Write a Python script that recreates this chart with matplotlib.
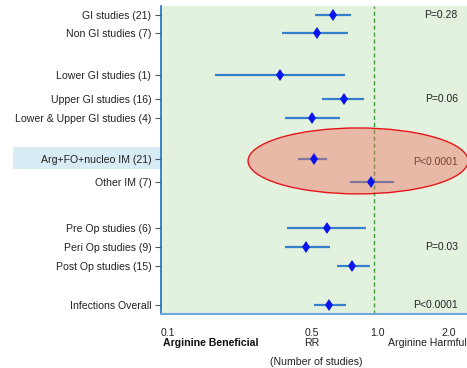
import numpy as np
import matplotlib
matplotlib.use("Agg")
from matplotlib import pyplot as plt
from matplotlib.patches import Ellipse, Rectangle
from matplotlib.transforms import ScaledTranslation

plt.rcParams['font.family'] = ['Liberation Sans', 'DejaVu Sans']

labels = ['GI studies (21)', 'Non GI studies (7)', 'Lower GI studies (1)',
          'Upper GI studies (16)', 'Lower & Upper GI studies (4)',
          'Arg+FO+nucleo IM (21)', 'Other IM (7)', 'Pre Op studies (6)',
          'Peri Op studies (9)', 'Post Op studies (15)', 'Infections Overall']
rr = [0.64, 0.54, 0.36, 0.72, 0.51, 0.52, 0.97, 0.60, 0.48, 0.79, 0.61]
ci_low = [0.53, 0.37, 0.18, 0.57, 0.38, 0.44, 0.77, 0.39, 0.38, 0.67, 0.52]
ci_high = [0.78, 0.75, 0.73, 0.89, 0.69, 0.60, 1.24, 0.91, 0.62, 0.95, 0.74]
p_text = ['P=0.28', 'P=0.06', 'P<0.0001', 'P=0.03', 'P<0.0001']
x_ticks = [0.1, 0.5, 1.0, 2.0]
x_ticklabels = ['0.1', '0.5', '1.0', '2.0']

# layout: row positions (top down), p-value rows
row_y = [15, 33, 75, 99, 118, 159, 182, 228, 247, 266, 305]
p_y = [15, 99, 162, 247, 305]

fig = plt.figure(figsize=(4.67, 3.68), dpi=100)
W, H = 467, 368

# highlight band behind Arg+FO label
band = Rectangle((13 / W, 1 - 169 / H), (161 - 13) / W, 22 / H,
                 transform=fig.transFigure, facecolor='#D8ECF5',
                 edgecolor='none', zorder=-1)
fig.patches.append(band)

ax = fig.add_axes([161 / W, 1 - 314 / H, 306 / W, 308 / H])
ax.set_facecolor('#E3F2DF')
ax.set_xscale('log')
ax.set_xlim(0.1, 2.72)
ax.set_ylim(314, 6)

ax.hlines(row_y, ci_low, ci_high, color='#3580CC', lw=1.6, zorder=2)
ax.plot(rr, row_y, 'd', color='#0A14EE', ms=6, mew=0, zorder=5)
ax.axvline(1.0, color='#3CA03C', lw=1, ls=(0, (3, 2)), zorder=1)

for t, y in zip(p_text, p_y):
    ax.text(0.97, y, t, transform=ax.get_yaxis_transform(), ha='right',
            va='center', fontsize=7.5, color='#222222', zorder=3)

ax.add_patch(Ellipse((0.644, 0.497), 0.719, 0.214, transform=ax.transAxes,
                     facecolor='#F06A58', alpha=0.42, edgecolor='none', zorder=4))
ax.add_patch(Ellipse((0.644, 0.497), 0.719, 0.214, transform=ax.transAxes,
                     facecolor='none', edgecolor='#E8141C', lw=1, zorder=4))

ax.set_yticks(row_y)
ax.set_yticklabels(labels, fontsize=7.6, color='#222222')
ax.tick_params(axis='y', length=4, width=0.8, color='#555555', pad=3)
ax.set_xticks(x_ticks)
ax.set_xticklabels(x_ticklabels, fontsize=7.6, color='#222222')
ax.minorticks_off()
ax.tick_params(axis='x', which='both', length=0, pad=10)

# nudge x tick labels like the original
shifts = [0, 2, 3, 10]
for lab, dx in zip(ax.get_xticklabels(), shifts):
    lab.set_transform(lab.get_transform() + ScaledTranslation(dx / 100, 0, fig.dpi_scale_trans))
ax.get_xticklabels()[0].set_ha('left')

for s in ['top', 'right']:
    ax.spines[s].set_visible(False)
ax.spines['left'].set_color('#1E6FC0')
ax.spines['left'].set_linewidth(1.2)
ax.spines['bottom'].set_color('#6FA8DC')
ax.spines['bottom'].set_linewidth(1.5)

fig.text(163 / W, 1 - 343 / H, 'Arginine Beneficial', fontsize=7.6,
         fontweight='bold', va='center', ha='left', color='#111111')
fig.text(312 / W, 1 - 343 / H, 'RR', fontsize=7.6, va='center', ha='center',
         color='#222222')
fig.text(388 / W, 1 - 343 / H, 'Arginine Harmful', fontsize=7.6,
         va='center', ha='left', color='#222222')
fig.text(316 / W, 1 - 362 / H, '(Number of studies)', fontsize=7.6,
         va='center', ha='center', color='#222222')

fig.savefig('out.png', dpi=100)
